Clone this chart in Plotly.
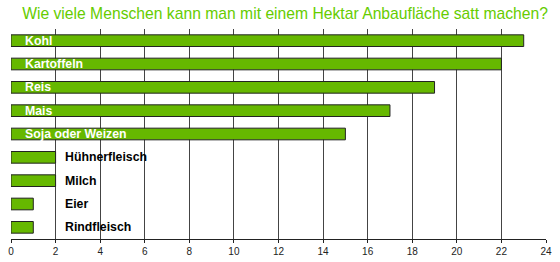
import plotly.graph_objects as go

categories = ["Kohl", "Kartoffeln", "Reis", "Mais", "Soja oder Weizen",
              "Hühnerfleisch", "Milch", "Eier", "Rindfleisch"]
values = [23, 22, 19, 17, 15, 2, 2, 1, 1]
tick_vals = list(range(0, 25, 2))
title_text = "Wie viele Menschen kann man mit einem Hektar Anbaufläche satt machen?"

fig = go.Figure()
fig.add_trace(go.Bar(
    y=categories, x=values, orientation="h",
    marker=dict(color="#66b800", line=dict(color="#222222", width=1)),
    width=0.5, hoverinfo="skip",
))

annotations = []
for c, v in zip(categories, values):
    if v >= 10:
        annotations.append(dict(x=0, y=c, xref="x", yref="y", text="<b>%s</b>" % c,
                                showarrow=False, xanchor="left", xshift=12,
                                font=dict(color="white", size=12.3, family="Liberation Sans, Arial")))
    else:
        annotations.append(dict(x=2, y=c, xref="x", yref="y", text="<b>%s</b>" % c,
                                showarrow=False, xanchor="left", xshift=7,
                                font=dict(color="black", size=12.3, family="Liberation Sans, Arial")))

fig.update_layout(
    width=560, height=262,
    margin=dict(l=11, r=14, t=29, b=23, autoexpand=False),
    paper_bgcolor="white", plot_bgcolor="white",
    showlegend=False,
    title=dict(text=title_text, x=0.509, xanchor="center", y=0.947, yanchor="middle",
               font=dict(color="#66cc00", size=15.7, family="Liberation Sans, Arial")),
    xaxis=dict(range=[0, 24], tickvals=tick_vals, showgrid=True, gridcolor="#444444",
               gridwidth=1, zeroline=False, showline=True, linecolor="#222222",
               ticks="outside", ticklen=3, tickcolor="#222222", automargin=False,
               tickfont=dict(size=10, family="Liberation Sans, Arial", color="#222222")),
    yaxis=dict(autorange="reversed", showticklabels=False, showgrid=False,
               zeroline=False, showline=False, automargin=False),
    annotations=annotations,
    bargap=0.5,
)

fig.write_html("out.html")
